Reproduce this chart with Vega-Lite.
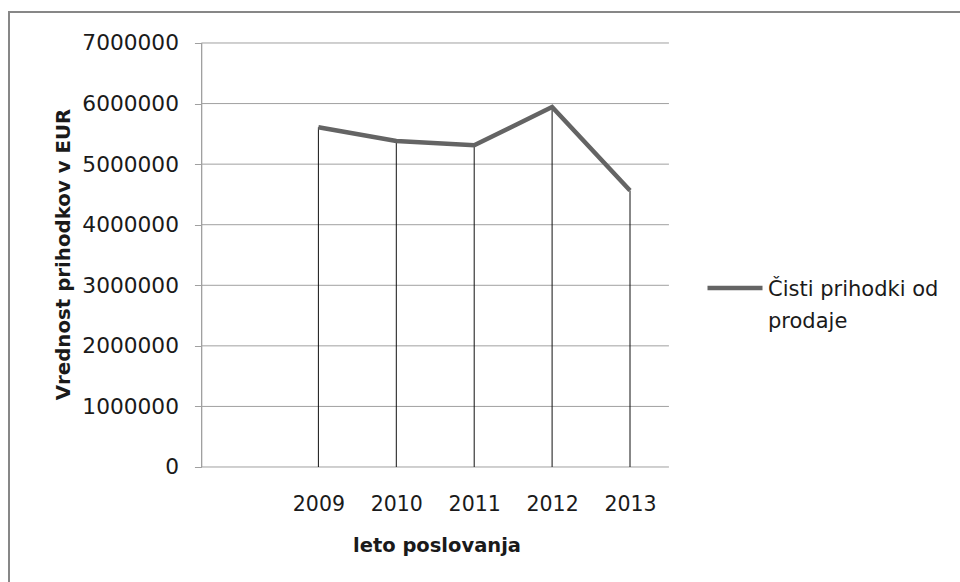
{
  "$schema": "https://vega.github.io/schema/vega-lite/v6.json",
  "autosize": "none",
  "width": 953,
  "height": 573,
  "padding": {"left": 9, "top": 12, "right": 0, "bottom": 0},
  "background": "white",
  "config": {
    "view": {"stroke": "#878787", "strokeWidth": 2},
    "font": "DejaVu Sans",
    "axis": {"grid": false}
  },
  "datasets": {
    "sales": [
      {"year": 2009, "value": 5608000, "series": "Čisti prihodki od prodaje"},
      {"year": 2010, "value": 5382000, "series": "Čisti prihodki od prodaje"},
      {"year": 2011, "value": 5311000, "series": "Čisti prihodki od prodaje"},
      {"year": 2012, "value": 5945000, "series": "Čisti prihodki od prodaje"},
      {"year": 2013, "value": 4565000, "series": "Čisti prihodki od prodaje"}
    ],
    "grid": [
      {"v": 0}, {"v": 1000000}, {"v": 2000000}, {"v": 3000000},
      {"v": 4000000}, {"v": 5000000}, {"v": 6000000}, {"v": 7000000}
    ]
  },
  "layer": [
    {
      "data": {"name": "grid"},
      "mark": {"type": "rule", "color": "#a0a0a0", "strokeWidth": 1},
      "encoding": {
        "y": {
          "field": "v",
          "type": "quantitative",
          "scale": {"domain": [-1948210, 7511790], "nice": false, "zero": false},
          "axis": {
            "orient": "left",
            "offset": -192.45,
            "values": [0, 1000000, 2000000, 3000000, 4000000, 5000000, 6000000, 7000000],
            "format": "d",
            "domain": false,
            "grid": false,
            "ticks": true,
            "tickSize": 7,
            "tickColor": "#a0a0a0",
            "labelFont": "DejaVu Sans",
            "labelFontSize": 21.7,
            "labelColor": "#1a1a1a",
            "labelPadding": 16,
            "title": "Vrednost prihodkov v EUR",
            "titleFont": "DejaVu Sans",
            "titleFontSize": 19.8,
            "titleFontWeight": "bold",
            "titleColor": "#1a1a1a",
            "titleAngle": -90,
            "titleBaseline": "alphabetic",
            "titleAlign": "center",
            "titleX": -132.45,
            "titleY": 242
          }
        },
        "x": {
          "datum": 2007.5,
          "type": "quantitative",
          "scale": {"domain": [2005.02824, 2017.26187], "nice": false, "zero": false},
          "axis": {
            "orient": "bottom",
            "offset": -118,
            "values": [2009, 2010, 2011, 2012, 2013],
            "format": "d",
            "domain": false,
            "ticks": false,
            "tickSize": 0,
            "grid": false,
            "labelFont": "DejaVu Sans",
            "labelFontSize": 20.5,
            "labelColor": "#1a1a1a",
            "labelPadding": 27,
            "title": "leto poslovanja",
            "titleFont": "DejaVu Sans",
            "titleFontSize": 19.5,
            "titleFontWeight": "bold",
            "titleColor": "#1a1a1a",
            "titleBaseline": "alphabetic",
            "titleAlign": "center",
            "titleX": 427.5,
            "titleY": 84
          }
        },
        "x2": {"datum": 2013.5}
      }
    },
    {
      "data": {"name": "grid"},
      "mark": {"type": "rule", "color": "#a0a0a0", "strokeWidth": 1},
      "encoding": {
        "x": {"datum": 2007.5, "type": "quantitative"},
        "y": {"datum": 0, "type": "quantitative"},
        "y2": {"datum": 7000000}
      }
    },
    {
      "data": {"name": "sales"},
      "mark": {"type": "rule", "color": "#111111", "strokeWidth": 1},
      "encoding": {
        "x": {"field": "year", "type": "quantitative"},
        "y": {"field": "value", "type": "quantitative"},
        "y2": {"datum": 0}
      }
    },
    {
      "data": {"name": "sales"},
      "mark": {"type": "line", "strokeWidth": 4.5, "strokeCap": "butt", "strokeJoin": "miter"},
      "encoding": {
        "x": {"field": "year", "type": "quantitative"},
        "y": {"field": "value", "type": "quantitative"},
        "color": {
          "field": "series",
          "type": "nominal",
          "scale": {"range": ["#646464"]},
          "legend": {
            "orient": "none",
            "legendX": 696,
            "legendY": 246,
            "title": null,
            "padding": 0,
            "symbolType": "stroke",
            "symbolSize": 3025,
            "symbolStrokeWidth": 4.5,
            "labelFont": "DejaVu Sans",
            "labelFontSize": 21,
            "labelColor": "#1a1a1a",
            "labelLimit": 400,
            "labelOffset": 3,
            "labelBaseline": "top",
            "labelExpr": "['Čisti prihodki od', 'prodaje']",
            "encode": {"labels": {"update": {"lineHeight": {"value": 32}, "dy": {"value": -9}}}}
          }
        }
      }
    }
  ]
}
